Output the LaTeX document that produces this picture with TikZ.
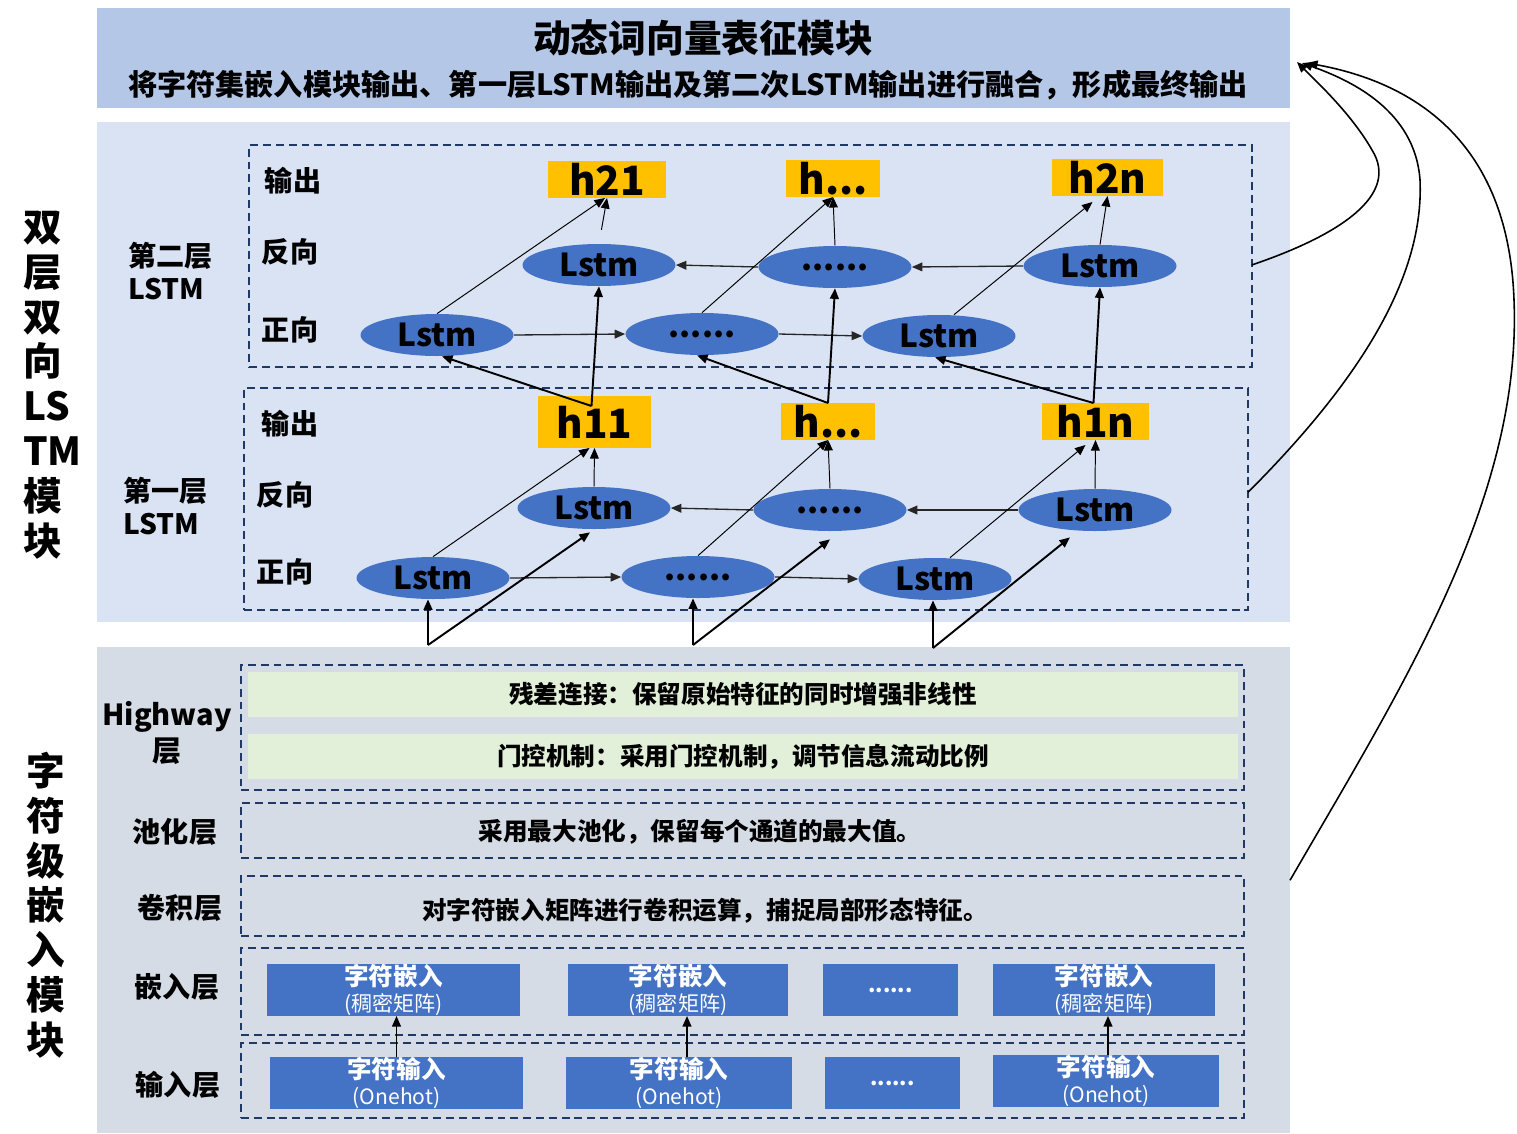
\documentclass[tikz,border=0pt]{standalone}
\usepackage{fontspec}
\setmainfont{Noto Sans CJK SC}
\usetikzlibrary{arrows.meta,shapes.geometric,fit,calc}
\definecolor{hdr}{HTML}{B4C7E7}
\definecolor{lbg}{HTML}{DAE3F3}
\definecolor{cbg}{HTML}{D6DCE5}
\definecolor{eblue}{HTML}{4472C4}
\definecolor{hyel}{HTML}{FFC000}
\definecolor{gband}{HTML}{E2F0D9}
\definecolor{navy}{HTML}{1F3864}
\newcommand\myfs[2]{\fontsize{#1}{#2}\selectfont}
\tikzset{
  bgbox/.style={inner sep=0pt, outer sep=0pt},
  sz/.style 2 args={rectangle, inner sep=0pt, outer sep=0pt, minimum width={#1*0.02cm}, minimum height={#2*0.02cm}},
  dbox/.style={draw=navy, line width=1pt, dash pattern=on 4.5pt off 2.8pt, inner sep=0pt, outer sep=0pt},
  lstm/.style={ellipse, fill=eblue, minimum width=3.06cm, minimum height=0.84cm, inner sep=0pt, font=\myfs{18}{20}\bfseries},
  hbox/.style={fill=hyel, font=\myfs{23}{25}\bfseries},
  lbl/.style={font=\myfs{16}{19}\bfseries},
  btext/.style={font=\myfs{14}{17}\bfseries},
  bluerect/.style={fill=eblue, text=white, align=center},
  tip/.style={-{Triangle[length=6pt,width=5pt]}},
  thinout/.style={tip, line width=0.55pt},
  harr/.style={tip, line width=0.75pt, draw=black!85},
  thickarr/.style={tip, line width=1.1pt},
  curvearr/.style={-{Triangle[length=6pt,width=5pt]}, line width=0.9pt},
}
\begin{document}
\begin{tikzpicture}[x=0.02cm,y=-0.02cm]
\useasboundingbox (0,0) rectangle (1517,1133);

% backgrounds
\node[bgbox, fill=hdr, fit={(97,8) (1290,108)}] (hdr) {};
\node[font=\myfs{21.5}{24}\bfseries] (title) at (703,38) {动态词向量表征模块};
\node[font=\myfs{16.6}{20}\bfseries] (sub) at (688,85) {将字符集嵌入模块输出、第一层LSTM输出及第二次LSTM输出进行融合，形成最终输出};
\node[bgbox, fill=lbg, fit={(97,122) (1290,622)}] (lstmbg) {};
\node[bgbox, fill=cbg, fit={(97,647) (1290,1133)}] (charbg) {};

% side labels
\node[font=\myfs{22}{25.5}\bfseries, align=left, anchor=west] (vl1) at (17,385) {双\\层\\双\\向\\LS\\TM\\模\\块};
\node[font=\myfs{22}{25.5}\bfseries, align=center] (vl2) at (46,905) {字\\符\\级\\嵌\\入\\模\\块};
\node[lbl, align=left, anchor=west] (l2lbl) at (122,271) {第二层\\LSTM};
\node[lbl, align=left, anchor=west] (l1lbl) at (117,506) {第一层\\LSTM};

% dashed boxes
\node[dbox, fit={(249,145) (1252,367)}] (L2box) {};
\node[dbox, fit={(244,388) (1248,610)}] (L1box) {};

% row labels
\node[lbl] (o2) at (293,181) {输出};
\node[lbl] (r2) at (290,252) {反向};
\node[lbl] (f2) at (290,330) {正向};
\node[lbl] (o1) at (290,424) {输出};
\node[lbl] (r1) at (285,495) {反向};
\node[lbl] (f1) at (285,572) {正向};

% upper layer
\node[hbox, sz={118}{37}] (h21) at (607,179.5) {h21};
\node[hbox, sz={94}{37}] (hu2) at (833,178.5) {h...};
\node[hbox, sz={111}{37}] (h2n) at (1107.5,177.5) {h2n};
\node[lstm] (ub1) at (599,265) {Lstm};
\node[lstm] (ub2) at (835,267) {......};
\node[lstm] (ub3) at (1100,266) {Lstm};
\node[lstm] (uf1) at (437,335) {Lstm};
\node[lstm] (uf2) at (702,334) {......};
\node[lstm] (uf3) at (939,336) {Lstm};

% lower layer
\node[hbox, sz={113}{52}] (h11) at (594.5,422) {h11};
\node[hbox, sz={94}{37}] (hl2) at (828,421.5) {h...};
\node[hbox, sz={107}{37}] (h1n) at (1095.5,421.5) {h1n};
\node[lstm] (lb1) at (594,508) {Lstm};
\node[lstm] (lb2) at (830,510) {......};
\node[lstm] (lb3) at (1095,510) {Lstm};
\node[lstm] (lf1) at (433,578) {Lstm};
\node[lstm] (lf2) at (698,577) {......};
\node[lstm] (lf3) at (935,579) {Lstm};

% upper connectors
\draw[harr] (uf1.east) -- (uf2.west);
\draw[harr] (uf2.east) -- (uf3.west);
\draw[harr] (ub3.west) -- (ub2.east);
\draw[harr] (ub2.west) -- (ub1.east);
\draw[thinout] (uf1.north) -- ($(h21.south)+(-2,0)$);
\draw[thinout, shorten <=8pt] (ub1.north) -- (h21.south);
\draw[thinout] (uf2.north) -- (hu2.south);
\draw[thinout] (ub2.north) -- (hu2.south);
\draw[thinout] ($(uf3.north)+(15,0)$) -- ($(h2n.south)+(-15,6)$);
\draw[thinout] (ub3.north) -- (h2n.south);

% lower connectors
\draw[harr] (lf1.east) -- (lf2.west);
\draw[harr] (lf2.east) -- (lf3.west);
\draw[harr] (lb3.west) -- (lb2.east);
\draw[harr] (lb2.west) -- (lb1.east);
\draw[thinout] (lf1.north) -- ($(h11.south)+(-5,0)$);
\draw[thinout] (lb1.north) -- (h11.south);
\draw[thinout] (lf2.north) -- (hl2.south);
\draw[thinout] (lb2.north) -- (hl2.south);
\draw[thinout] ($(lf3.north)+(15,0)$) -- ($(h1n.south)+(-10,5)$);
\draw[thinout] (lb3.north) -- (h1n.south);

% inter-layer
\coordinate (s1) at ($(h11.north)+(-3,10)$);
\coordinate (s2) at (hl2.north);
\coordinate (s3) at ($(h1n.north)+(-2,0)$);
\draw[thickarr] (s1) -- ($(uf1.south)+(5,0)$);
\draw[thickarr] (s1) -- (ub1.south);
\draw[thickarr] (s2) -- ($(uf2.south)+(-5,0)$);
\draw[thickarr] (s2) -- (ub2.south);
\draw[thickarr] (s3) -- ($(uf3.south)+(-4,0)$);
\draw[thickarr] (s3) -- (ub3.south);

% from character module
\coordinate (j1) at (428,645);
\coordinate (j2) at (693,645);
\coordinate (j3) at (933,648);
\draw[thickarr] (j1) -- (j1 |- lf1.south);
\draw[thickarr] (j1) -- ($(lb1.south)+(-4,3)$);
\draw[thickarr] (j2) -- (j2 |- lf2.south);
\draw[thickarr] (j2) -- ($(lb2.south)+(0,8)$);
\draw[thickarr] (j3) -- (j3 |- lf3.south);
\draw[thickarr] (j3) -- ($(lb3.south)+(-25,6)$);

% character-level module
\node[lbl, align=center, font=\myfs{16.5}{20}\bfseries] (hwlbl) at (167,733) {Highway\\层};
\node[dbox, fit={(241,665) (1244,790)}] (hwbox) {};
\node[fill=gband, btext, sz={990}{45}] (g1) at (743,694.5) {残差连接：保留原始特征的同时增强非线性};
\node[fill=gband, btext, sz={990}{45}] (g2) at (743,756.5) {门控机制：采用门控机制，调节信息流动比例};

\node[lbl] (poollbl) at (175,832) {池化层};
\node[dbox, fit={(241,803) (1244,858)}] (poolbox) {};
\node[btext] (pooltxt) at (700,832) {采用最大池化，保留每个通道的最大值。};

\node[lbl] (convlbl) at (180,908) {卷积层};
\node[dbox, fit={(241,876) (1244,936)}] (convbox) {};
\node[btext] (convtxt) at (705,911) {对字符嵌入矩阵进行卷积运算，捕捉局部形态特征。};

\node[lbl] (emblbl) at (177,987) {嵌入层};
\node[dbox, fit={(241,948) (1244,1035)}] (embbox) {};
\node[bluerect, sz={253}{52}] (e1) at (393.5,990) {{\myfs{14}{16}\bfseries 字符嵌入}\\[3pt]{\myfs{12}{14}(稠密矩阵)}};
\node[bluerect, sz={220}{52}] (e2) at (678,990) {{\myfs{14}{16}\bfseries 字符嵌入}\\[3pt]{\myfs{12}{14}(稠密矩阵)}};
\node[bluerect, sz={135}{52}, font=\myfs{12}{14}\bfseries] (e3) at (890.5,990) {......};
\node[bluerect, sz={222}{52}] (e4) at (1104,990) {{\myfs{14}{16}\bfseries 字符嵌入}\\[3pt]{\myfs{12}{14}(稠密矩阵)}};

\node[lbl] (inlbl) at (178,1085) {输入层};
\node[dbox, fit={(241,1043) (1244,1118)}] (inbox) {};
\node[bluerect, sz={253}{52}] (i1) at (396.5,1083) {{\myfs{14}{16}\bfseries 字符输入}\\[3pt]{\myfs{12}{14}(Onehot)}};
\node[bluerect, sz={226}{52}] (i2) at (679,1083) {{\myfs{14}{16}\bfseries 字符输入}\\[3pt]{\myfs{12}{14}(Onehot)}};
\node[bluerect, sz={135}{52}, font=\myfs{12}{14}\bfseries] (i3) at (892.5,1083) {......};
\node[bluerect, sz={226}{52}] (i4) at (1106,1081) {{\myfs{14}{16}\bfseries 字符输入}\\[3pt]{\myfs{12}{14}(Onehot)}};

\draw[thickarr, line width=0.9pt] (i1.north) -- (i1.north |- e1.south);
\draw[thickarr, line width=0.9pt] ($(i2.north)+(8,0)$) -- ($(i2.north |- e2.south)+(8,0)$);
\draw[thickarr, line width=0.9pt] ($(i4.north)+(2,0)$) -- ($(i4.north |- e4.south)+(2,0)$);

% curves to header
\coordinate (c1s) at ($(L2box.north east)!0.54!(L2box.south east)$);
\coordinate (c2s) at ($(L1box.north east)!0.47!(L1box.south east)$);
\coordinate (c3s) at ($(charbg.north east)!0.48!(charbg.south east)$);
\coordinate (c1e) at ($(hdr.east)+(7,4)$);
\coordinate (c2e) at ($(hdr.east)+(12,5)$);
\coordinate (c3e) at ($(hdr.east)+(17,5)$);
\draw[curvearr] (c1s) .. controls (1340,235) and (1400,195) .. (1372,150) .. controls (1352,115) and (1320,85) .. (c1e);
\draw[curvearr] (c2s) .. controls (1340,400) and (1425,290) .. (1420,180) .. controls (1415,110) and (1350,80) .. (c2e);
\draw[curvearr] (c3s) .. controls (1400,690) and (1522,500) .. (1514,300) .. controls (1508,130) and (1400,80) .. (c3e);
\end{tikzpicture}
\end{document}
